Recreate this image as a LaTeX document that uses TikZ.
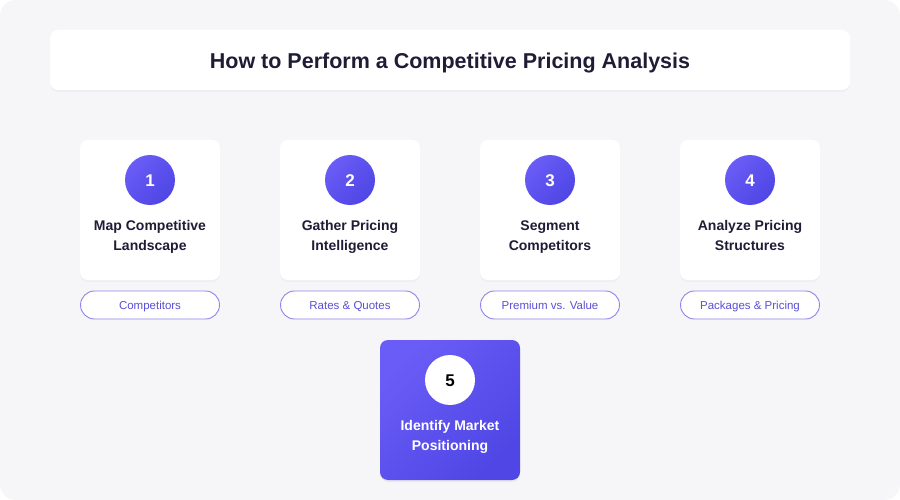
\documentclass[tikz,border=0pt]{standalone}
\usepackage{fontspec}
\setmainfont{Liberation Sans}
\usetikzlibrary{shadows}
\definecolor{bgc}{HTML}{F6F6F9}
\definecolor{ink}{HTML}{1F1D36}
\definecolor{pa}{HTML}{6A5CF6}
\definecolor{pb}{HTML}{4F46E5}
\definecolor{pillline}{HTML}{8E84EC}
\definecolor{pilltext}{HTML}{5A4FD6}
\tikzset{
  card/.style={rounded corners=8pt, fill=white, draw=none, minimum width=140pt, minimum height=140pt, inner sep=0pt,
    drop shadow={opacity=0.06, shadow xshift=0pt, shadow yshift=-2pt}},
  hicard/.style={rounded corners=8pt, draw=none, minimum width=140pt, minimum height=140pt, inner sep=0pt,
    left color=pa, right color=pb, shading angle=45,
    drop shadow={opacity=0.10, shadow xshift=0pt, shadow yshift=-2pt}},
  numc/.style={circle, minimum size=50pt, inner sep=0pt, left color=pa, right color=pb, shading angle=45},
  wnumc/.style={circle, minimum size=50pt, inner sep=0pt, fill=white},
  numtext/.style={anchor=base, inner sep=0pt, font=\fontsize{17}{20}\selectfont\bfseries},
  ctitle/.style={anchor=base, inner sep=0pt, text=ink, font=\fontsize{14}{20}\selectfont\bfseries},
  pill/.style={rounded corners=14pt, draw=pillline, line width=0.9pt, fill=white, minimum width=139pt, minimum height=28pt,
    inner sep=0pt},
  pilltxt/.style={anchor=base, inner sep=0pt, text=pilltext, font=\fontsize{11.5}{13}\selectfont},
}
\begin{document}
\begin{tikzpicture}[x=1pt,y=-1pt]
\useasboundingbox (0,0) rectangle (900,500);
\fill[white] (0,0) rectangle (900,500);
\fill[bgc, rounded corners=16pt] (0,0) rectangle (900,500);
\node[rounded corners=8pt, fill=white, minimum width=800pt, minimum height=60pt, inner sep=0pt,
  drop shadow={opacity=0.05, shadow xshift=0pt, shadow yshift=-2pt}] (title) at (450,60) {};
\node[anchor=base, inner sep=0pt, text=ink, font=\fontsize{21.5}{24}\selectfont\bfseries] (titletext) at (450,68.5) {How to Perform a Competitive Pricing Analysis};

\foreach \i/\x/\la/\lb/\p in {1/150/Map Competitive/Landscape/Competitors,
                              2/350/Gather Pricing/Intelligence/Rates \& Quotes,
                              3/550/Segment/Competitors/Premium vs. Value,
                              4/750/Analyze Pricing/Structures/Packages \& Pricing}{
  \node[card] (card\i) at (\x,210) {};
  \node[numc] (num\i) at (\x,180) {};
  \node[numtext, text=white] (n\i) at (\x,186) {\i};
  \node[ctitle] (ta\i) at (\x,230) {\la};
  \node[ctitle] (tb\i) at (\x,250) {\lb};
  \node[pill] (pill\i) at (\x,305) {};
  \node[pilltxt] (p\i) at (\x,309.5) {\p};
}
\node[hicard] (card5) at (450,410) {};
\node[wnumc] (num5) at (450,380) {};
\node[numtext, text=black] (n5) at (450,386) {5};
\node[ctitle, text=white] (ta5) at (450,430) {Identify Market};
\node[ctitle, text=white] (tb5) at (450,450) {Positioning};
\end{tikzpicture}
\end{document}
